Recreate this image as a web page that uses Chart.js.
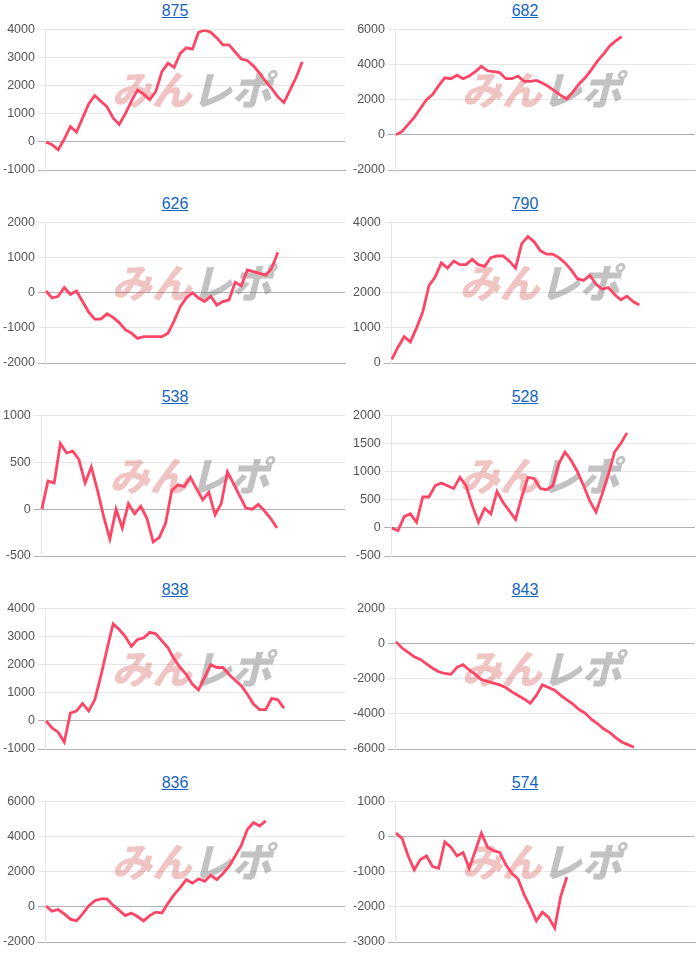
<!DOCTYPE html>
<html lang="ja">
<head>
<meta charset="utf-8">
<script src="https://cdn.jsdelivr.net/npm/chart.js@4.4.1/dist/chart.umd.min.js"></script>
<style>
  body { margin: 0; background: #fff; font-family: Arial, "Liberation Sans", sans-serif; }
  #grade { width: 700px; display: flex; flex-wrap: wrap; }
  .celula { width: 350px; height: 193px; }
  .celula a { display: block; height: 19px; line-height: 22px; text-align: center; font-size: 16px; color: #1565c0; text-decoration: underline; }
  canvas { display: block; }
</style>
</head>
<body>
<div id="grade"></div>
<script>
// 台番号 (titulo de cada grafico)
const titulos = ['875', '682', '626', '790', '538', '528', '838', '843', '836', '574'];

// eixo x: 50 posicoes, cada serie ocupa so uma parte
const rotulos = Array(50).fill('');

// 差枚 de cada maquina
const dados875 = [0, -100, -280, 100, 550, 350, 850, 1350, 1650, 1450, 1250, 850, 620, 1000, 1450, 1850, 1700, 1500, 1800, 2500,
  2800, 2650, 3150, 3350, 3300, 3900, 3980, 3900, 3700, 3450, 3450, 3200, 2950, 2900, 2700, 2450, 2150, 1900, 1600, 1400,
  1850, 2300, 2850];
const dados682 = [0, 200, 600, 1000, 1500, 2000, 2300, 2800, 3250, 3200, 3400, 3200, 3350, 3600, 3900, 3650, 3600, 3550, 3200, 3200,
  3350, 3050, 3050, 3100, 2950, 2750, 2500, 2250, 2050, 2450, 2900, 3250, 3700, 4200, 4600, 5050, 5350, 5600];
const dados626 = [50, -150, -100, 150, -50, 50, -250, -550, -750, -750, -600, -700, -850, -1050, -1150, -1300, -1250, -1250, -1250, -1250,
  -1150, -800, -400, -150, 0, -150, -250, -100, -350, -250, -200, 300, 200, 650, 600, 550, 500, 700, 1150];
const dados790 = [100, 450, 750, 600, 1000, 1450, 2200, 2450, 2850, 2700, 2900, 2800, 2800, 2950, 2800, 2750, 3000, 3050, 3050, 2900,
  2700, 3400, 3600, 3450, 3200, 3100, 3100, 3000, 2850, 2650, 2400, 2350, 2500, 2250, 2100, 2150, 1950, 1800, 1900, 1750, 1650];
const dados538 = [0, 300, 280, 700, 600, 620, 530, 280, 450, 200, -80, -320, 0, -200, 60, -50, 30, -100, -350, -300,
  -150, 200, 260, 240, 340, 220, 100, 180, -60, 60, 400, 270, 140, 10, 0, 50, -20, -100, -200];
const dados528 = [0, -50, 200, 250, 100, 550, 550, 750, 800, 750, 700, 900, 750, 400, 100, 350, 250, 650, 450, 300,
  150, 550, 900, 880, 700, 680, 750, 1150, 1350, 1200, 1000, 750, 480, 280, 600, 950, 1350, 1500, 1690];
const dados838 = [0, -250, -400, -750, 280, 350, 620, 350, 750, 1600, 2550, 3450, 3250, 3000, 2650, 2900, 2950, 3150, 3100, 2850,
  2600, 2200, 1900, 1650, 1300, 1100, 1550, 2000, 1900, 1900, 1650, 1450, 1250, 950, 600, 400, 400, 800, 750, 450];
const dados843 = [100, -250, -500, -750, -900, -1150, -1400, -1600, -1700, -1750, -1350, -1200, -1500, -1750, -2050, -2150, -2250, -2350, -2500, -2750,
  -2950, -3150, -3400, -2950, -2350, -2500, -2650, -2950, -3200, -3450, -3750, -3950, -4300, -4550, -4850, -5050, -5350, -5600, -5750, -5900];
const dados836 = [50, -250, -150, -400, -700, -800, -400, 50, 350, 450, 450, 100, -200, -500, -350, -550, -800, -500, -300, -350,
  200, 700, 1100, 1550, 1350, 1600, 1450, 1800, 1550, 1900, 2300, 2900, 3500, 4400, 4800, 4600, 4900];
const dados574 = [100, -50, -550, -950, -650, -550, -850, -900, -150, -300, -550, -450, -900, -400, 100, -300, -400, -450, -800, -1050,
  -1200, -1650, -2000, -2400, -2150, -2300, -2600, -1700, -1150];

const series = [dados875, dados682, dados626, dados790, dados538, dados528, dados838, dados843, dados836, dados574];

// limites e passo do eixo y de cada grafico
const yMinimos = [-1000, -2000, -2000, 0, -500, -500, -1000, -6000, -2000, -3000];
const yMaximos = [4000, 6000, 2000, 4000, 1000, 2000, 4000, 2000, 6000, 1000];
const yPassos = [1000, 2000, 1000, 1000, 500, 500, 1000, 2000, 2000, 1000];

// marca d'agua "みんレポ" no meio da area do grafico
const marcaDagua = {
  id: 'marcaDagua',
  beforeDatasetsDraw(chart) {
    const { ctx, chartArea } = chart;
    const cx = (chartArea.left + chartArea.right) / 2;
    const cy = chartArea.top + chartArea.height * 0.43;
    ctx.save();
    ctx.font = '900 40px "Noto Sans CJK JP"';
    ctx.textBaseline = 'middle';
    const w1 = ctx.measureText('みん').width;
    const w2 = ctx.measureText('レポ').width;
    ctx.translate(cx, cy);
    ctx.transform(1, 0, -0.25, 1, 0, 0);
    const x0 = -(w1 + w2) / 2;
    ctx.fillStyle = 'rgba(210, 70, 70, 0.32)';
    ctx.fillText('みん', x0, 0);
    ctx.fillStyle = 'rgba(120, 120, 120, 0.45)';
    ctx.fillText('レポ', x0 + w1, 0);
    ctx.restore();
  }
};

function criarGrafico(i) {
  const celula = document.createElement('div');
  celula.className = 'celula';
  const link = document.createElement('a');
  link.href = '#';
  link.textContent = titulos[i];
  const canvas = document.createElement('canvas');
  canvas.width = 350;
  canvas.height = 174;
  celula.appendChild(link);
  celula.appendChild(canvas);
  document.getElementById('grade').appendChild(celula);

  const minimo = yMinimos[i];
  new Chart(canvas, {
    type: 'line',
    data: {
      labels: rotulos,
      datasets: [{
        data: series[i],
        borderColor: '#ff4565',
        borderWidth: 2.8,
        pointRadius: 0,
        tension: 0,
        fill: false
      }]
    },
    options: {
      responsive: false,
      animation: false,
      layout: { padding: { right: 5, bottom: 15 } },
      plugins: {
        legend: { display: false },
        tooltip: { enabled: false }
      },
      scales: {
        x: {
          ticks: { display: false },
          grid: { display: false },
          border: { color: '#b0b0b0' }
        },
        y: {
          min: minimo,
          max: yMaximos[i],
          ticks: {
            stepSize: yPassos[i],
            color: '#555',
            font: { size: 12.5, family: 'Arial, "Liberation Sans", sans-serif' },
            callback: (v) => String(v)
          },
          grid: {
            color: (c) => (c.tick.value === 0 || c.tick.value === minimo) ? '#b0b0b0' : '#e6e6e6'
          },
          border: { color: '#e6e6e6' }
        }
      }
    },
    plugins: [marcaDagua]
  });
}

for (let i = 0; i < titulos.length; i++) {
  criarGrafico(i);
}
</script>
</body>
</html>
